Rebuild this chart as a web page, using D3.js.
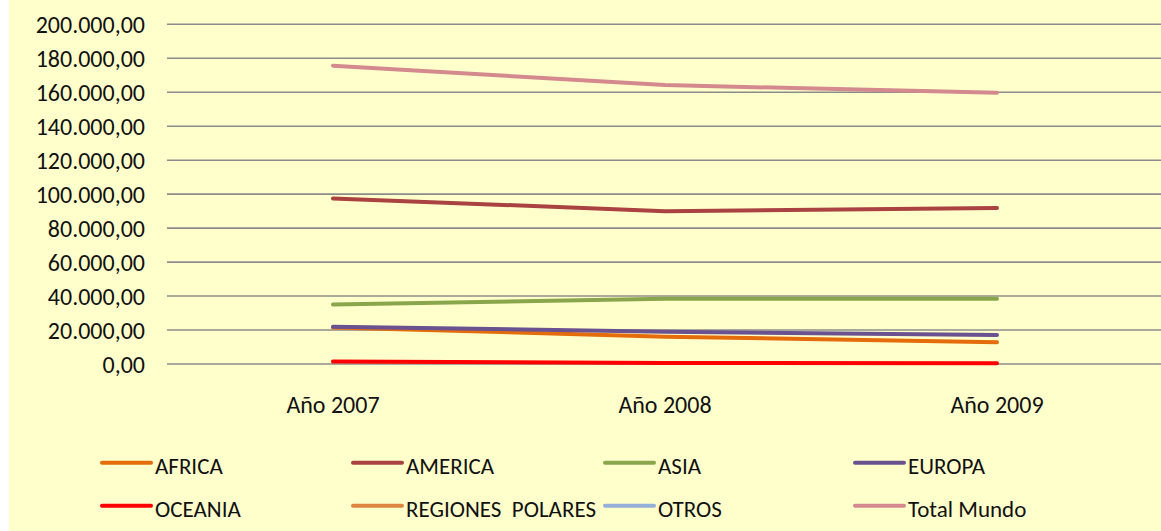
<!DOCTYPE html>
<html>
<head>
<meta charset="utf-8">
<script src="https://cdn.jsdelivr.net/npm/d3@7"></script>
<style>
  html, body { margin: 0; padding: 0; background: #ffffff; }
  svg { display: block; }
  text { font-family: Calibri, Carlito, "Liberation Sans", Arial, sans-serif; fill: #111; }
</style>
</head>
<body>
<div id="chart"></div>
<script>
// Chart data
const years = ["Año 2007", "Año 2008", "Año 2009"];
const seriesNames = ["AFRICA", "AMERICA", "ASIA", "EUROPA", "OCEANIA", "REGIONES  POLARES", "OTROS", "Total Mundo"];
const africa = [21500, 16100, 12800];
const america = [97500, 90000, 91800];
const asia = [35100, 38400, 38400];
const europa = [22000, 19000, 17100];
const oceania = [1400, 600, 400];
const regionesPolares = [null, null, null];
const otros = [null, null, null];
const totalMundo = [175600, 164200, 159700];
const yTicks = [0, 20000, 40000, 60000, 80000, 100000, 120000, 140000, 160000, 180000, 200000];

const seriesValues = [africa, america, asia, europa, oceania, regionesPolares, otros, totalMundo];
const seriesColors = ["#e46c0a", "#a94240", "#8aa64c", "#6a5190", "#ff0000", "#df8542", "#95b0d8", "#d4898e"];

const width = 1161;
const height = 531;

const svg = d3.select("#chart")
    .append("svg")
    .attr("width", width)
    .attr("height", height);

// yellow chart area (small white strip on the left)
svg.append("rect")
    .attr("x", 9)
    .attr("y", 0)
    .attr("width", width - 9)
    .attr("height", height)
    .attr("fill", "#ffffcc");

const x = d3.scalePoint()
    .domain(years)
    .range([167, 1163])
    .padding(0.5);

const y = d3.scaleLinear()
    .domain([0, 200000])
    .range([364, 24.3]);

const es = d3.formatLocale({ decimal: ",", thousands: ".", grouping: [3], currency: ["", "€"] });
const fmt = es.format(",.2f");

// gridlines
svg.append("g")
    .selectAll("line")
    .data(yTicks)
    .enter().append("line")
    .attr("x1", 167)
    .attr("x2", width)
    .attr("y1", d => y(d))
    .attr("y2", d => y(d))
    .attr("stroke", "#8c8c8c")
    .attr("stroke-width", 1.6);

// y labels
svg.append("g")
    .selectAll("text")
    .data(yTicks)
    .enter().append("text")
    .attr("x", 145)
    .attr("y", d => y(d) + 8.5)
    .attr("text-anchor", "end")
    .style("font-size", "24px")
    .text(d => fmt(d));

// x labels
svg.append("g")
    .selectAll("text")
    .data(years)
    .enter().append("text")
    .attr("x", d => x(d))
    .attr("y", 413)
    .attr("text-anchor", "middle")
    .style("font-size", "24px")
    .text(d => d);

// series lines
const line = d3.line()
    .defined(d => d != null)
    .x((d, i) => x(years[i]))
    .y(d => y(d));

seriesValues.forEach((vals, i) => {
    if (vals.every(v => v == null)) return;
    svg.append("path")
        .datum(vals)
        .attr("fill", "none")
        .attr("stroke", seriesColors[i])
        .attr("stroke-width", 4)
        .attr("stroke-linecap", "round")
        .attr("stroke-linejoin", "round")
        .attr("d", line);
});

// legend
const legendCols = [102, 353, 605, 855];
const legendRows = [462.7, 505.7];

seriesNames.forEach((name, i) => {
    const lx = legendCols[i % 4];
    const ly = legendRows[Math.floor(i / 4)];
    const item = svg.append("g");

    item.append("line")
        .attr("x1", lx)
        .attr("x2", lx + 49)
        .attr("y1", ly)
        .attr("y2", ly)
        .attr("stroke", seriesColors[i])
        .attr("stroke-width", 4)
        .attr("stroke-linecap", "round");

    item.append("text")
        .attr("x", lx + 53)
        .attr("y", ly + 11.5)
        .style("font-size", "23px")
        .style("white-space", "pre")
        .text(name);
});
</script>
</body>
</html>
